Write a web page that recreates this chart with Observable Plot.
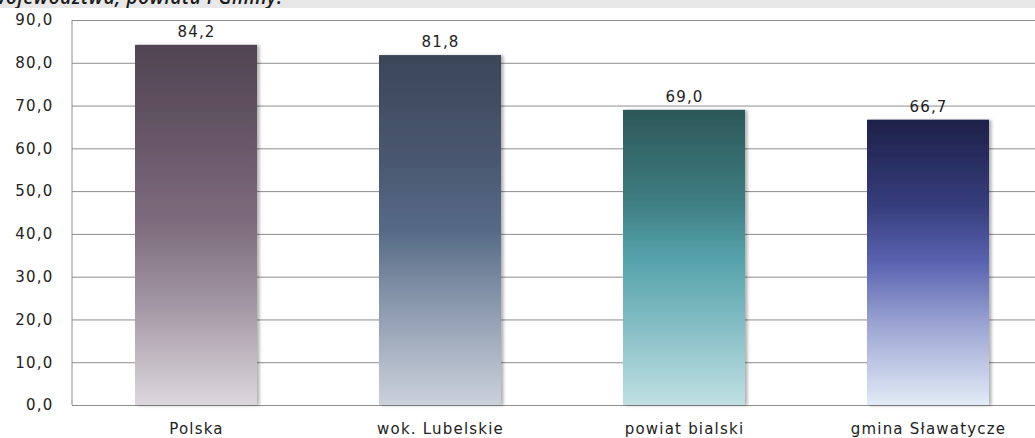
<!DOCTYPE html>
<html>
<head>
<meta charset="utf-8">
<script src="https://cdn.jsdelivr.net/npm/d3@7"></script>
<script src="https://cdn.jsdelivr.net/npm/@observablehq/plot@0.6"></script>
<style>
  html, body { margin: 0; padding: 0; background: #fff; overflow: hidden; width: 1035px; height: 438px; }
  #band { position: relative; height: 8px; background: #e8e8e8; overflow: hidden; }
  #band span { position: absolute; left: -9px; top: -12px; font-family: "Open Sans", sans-serif; font-style: italic; font-weight: 600; font-size: 19px; line-height: 1; letter-spacing: 0.6px; color: #1a1a1a; white-space: nowrap; }
  #chart { width: 1035px; overflow: hidden; }
  #chart svg { display: block; overflow: hidden; }
</style>
</head>
<body>
<div id="band"><span>województwa, powiatu i Gminy.</span></div>
<div id="chart"></div>
<script>
// Data
const categories = ["Polska", "wok. Lubelskie", "powiat bialski", "gmina Sławatycze"];
const values = [84.2, 81.8, 69.0, 66.7];
const yTicks = [0, 10, 20, 30, 40, 50, 60, 70, 80, 90];

// Gradient palettes (top -> bottom)
const gradients = [
  ["#514452", "#6a5a6b", "#7d6d7e", "#a396a4", "#dcd7dd"],
  ["#3b4658", "#4a5870", "#566a86", "#8c9aae", "#ccd1dc"],
  ["#2c5759", "#3e7c80", "#55a2aa", "#82bcc3", "#c0e0e3"],
  ["#1e2048", "#363d7c", "#5a63b0", "#9ca5d2", "#e2ebf6"]
];
const stops = [0, 0.3, 0.5, 0.72, 1];

const data = categories.map((c, i) => ({cat: c, value: values[i]}));
const fmt = d => d.toFixed(1).replace(".", ",");

const defsMark = () => {
  const defs = d3.create("svg:defs");
  gradients.forEach((cols, i) => {
    const g = defs.append("linearGradient").attr("id", "g" + i)
      .attr("x1", 0).attr("y1", 0).attr("x2", 0).attr("y2", 1);
    cols.forEach((c, j) => g.append("stop").attr("offset", stops[j]).attr("stop-color", c));
  });
  const f = defs.append("filter").attr("id", "shadow")
    .attr("x", "-10%").attr("y", "-10%").attr("width", "130%").attr("height", "130%");
  f.append("feDropShadow").attr("dx", 2.5).attr("dy", 0.5).attr("stdDeviation", 1.6)
    .attr("flood-color", "#000").attr("flood-opacity", 0.3);
  return defs.node();
};

const leftLine = (index, scales, values, dims) => {
  const l = d3.create("svg:line")
    .attr("x1", dims.marginLeft).attr("x2", dims.marginLeft)
    .attr("y1", dims.marginTop).attr("y2", dims.height - dims.marginBottom)
    .attr("stroke", "#8c8c8c");
  return l.node();
};

const chart = Plot.plot({
  width: 1035,
  height: 430,
  marginTop: 12,
  marginBottom: 33,
  marginLeft: 72,
  marginRight: -16,
  style: {fontFamily: "'DejaVu Sans', sans-serif", fontSize: "15px", letterSpacing: "1.2px", color: "#222", background: "transparent"},
  x: {domain: categories, paddingInner: 0.5, paddingOuter: 0.25, label: null, tickSize: 0, tickPadding: 18},
  y: {domain: [0, 90], ticks: yTicks, tickFormat: fmt, label: null, tickSize: 0, tickPadding: 19},
  color: {type: "ordinal", domain: categories, range: categories.map((c, i) => `url(#g${i})`)},
  marks: [
    defsMark,
    Plot.ruleY(yTicks, {stroke: "#8c8c8c", strokeWidth: 1}),
    leftLine,
    Plot.barY(data, {x: "cat", y: "value", fill: "cat"}),
    Plot.text(data, {x: "cat", y: "value", text: d => fmt(d.value), dy: -13, fill: "#222", fontSize: 15})
  ]
});

d3.select(chart).selectAll("g[aria-label='bar']").attr("filter", "url(#shadow)");
document.getElementById("chart").appendChild(chart);
</script>
</body>
</html>
